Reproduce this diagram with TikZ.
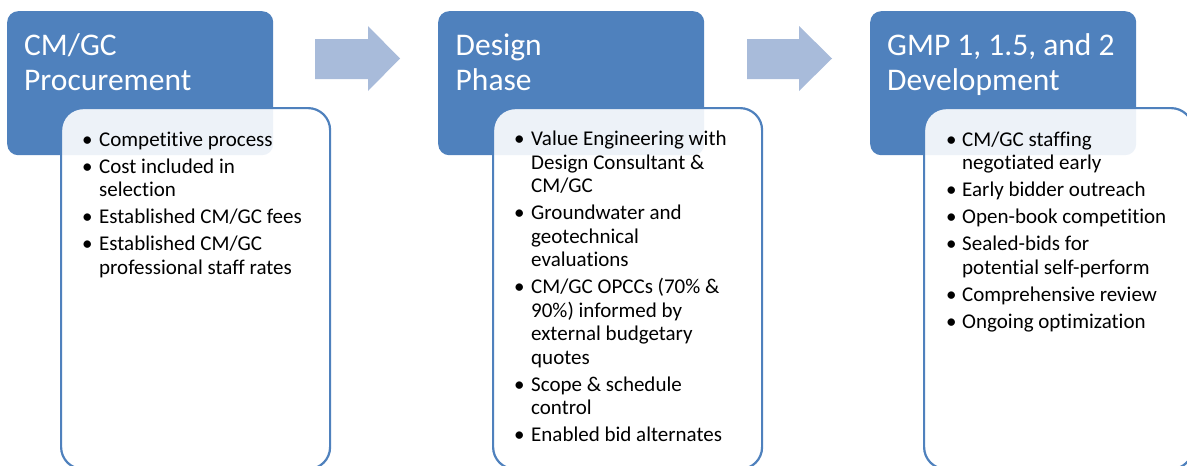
\documentclass[tikz,border=0pt]{standalone}
\usepackage{fontspec}
\setmainfont{Carlito}[Ligatures=NoCommon]
\usepackage{xcolor}
\usepackage{tikz}
\definecolor{hdblue}{RGB}{79,129,189}
\definecolor{arrblue}{RGB}{168,187,218}

\begin{document}
\begin{tikzpicture}[x=1pt,y=-1pt,
	head/.style={fill=hdblue,rounded corners=11pt,inner sep=0pt,anchor=north west,minimum width=266pt,minimum height=144pt},
	body/.style={draw=hdblue,line width=2.2pt,fill=white,fill opacity=0.9,rounded corners=22pt,inner sep=0pt,anchor=north west,minimum width=269pt,minimum height=361pt},
	htxt/.style={text=white,inner sep=0pt,anchor=base west,font=\fontsize{31.5}{35}\selectfont},
	btxt/.style={inner sep=0pt,anchor=base west,font=\fontsize{21}{23.5}\selectfont},
	arr/.style={fill=arrblue}]
					\useasboundingbox (0,0) rectangle (1187,466);
					% headers
					\node[head] (hd1) at (7,11) {};
					\node[head] (hd2) at (438,11) {};
					\node[head] (hd3) at (870,11) {};
					% arrows
					\fill[arr] (315,39) -- (368,39) -- (368,26) -- (400,58.5) -- (368,91) -- (368,79) -- (315,79) -- cycle;
					\fill[arr] (747,39) -- (799,39) -- (799,26) -- (832,58.5) -- (799,91) -- (799,79) -- (747,79) -- cycle;
					% bodies
					\node[body] (bd1) at (60,107) {};
					\node[body] (bd2) at (492,107) {};
					\node[body] (bd3) at (923,107) {};
					% titles
					\node[htxt] (ti1) at (24,55) {\begin{tabular}[t]{@{}l@{}}CM/GC\\Procurement\end{tabular}};
					\node[htxt] (ti2) at (455.5,55) {\begin{tabular}[t]{@{}l@{}}Design\\Phase\end{tabular}};
					\node[htxt] (ti3) at (887,55) {\begin{tabular}[t]{@{}l@{}}GMP 1, 1.5, and 2\\Development\end{tabular}};
					% bullet lists
					\node[btxt] (ls1) at (82,146) {\begin{tabular}[t]{@{}p{17pt}@{}l@{}}
						\textbullet & Competitive process\\[3.5pt]
						\textbullet & Cost included in\\ & selection\\[3.5pt]
						\textbullet & Established CM/GC fees\\[3.5pt]
						\textbullet & Established CM/GC\\ & professional staff rates
					\end{tabular}};
					\node[btxt] (ls2) at (514,145.5) {\begin{tabular}[t]{@{}p{17pt}@{}l@{}}
						\textbullet & Value Engineering with\\ & Design Consultant \&\\ & CM/GC\\[3.5pt]
						\textbullet & Groundwater and\\ & geotechnical\\ & evaluations\\[3.5pt]
						\textbullet & CM/GC OPCCs (70\% \&\\ & 90\%) informed by\\ & external budgetary\\ & quotes\\[3.5pt]
						\textbullet & Scope \& schedule\\ & control\\[3.5pt]
						\textbullet & Enabled bid alternates
					\end{tabular}};
					\node[btxt] (ls3) at (946,146) {\begin{tabular}[t]{@{}p{16pt}@{}l@{}}
						\textbullet & CM/GC staffing\\ & negotiated early\\[3.5pt]
						\textbullet & Early bidder outreach\\[3.5pt]
						\textbullet & Open-book competition\\[3.5pt]
						\textbullet & Sealed-bids for\\ & potential self-perform\\[3.5pt]
						\textbullet & Comprehensive review\\[3.5pt]
						\textbullet & Ongoing optimization
					\end{tabular}};
			\end{tikzpicture}
\end{document}
